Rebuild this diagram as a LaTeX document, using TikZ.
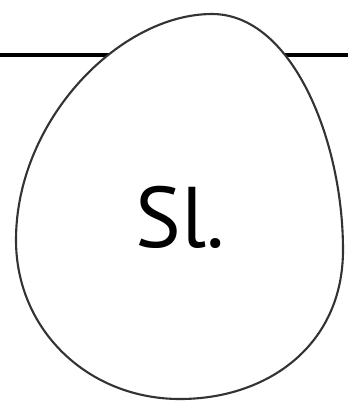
\documentclass[tikz,border=0pt]{standalone}
\usepackage{fontspec}
\setmainfont{PT Sans}
\usetikzlibrary{positioning,calc}
\tikzset{
  eggoutline/.style={
    draw=black!80,
    fill=white,
    line width=1.2pt
  },
  bandline/.style={
    draw=black,
    line width=2.2pt
  },
  egglabel/.style={
    font=\fontsize{49}{56}\selectfont,
    inner sep=0pt
  }
}
\begin{document}
\begin{tikzpicture}[x=0.02cm,y=-0.02cm]
  \useasboundingbox (0,0) rectangle (348,406);

  % horizontal band running behind the egg
  \coordinate (bandleft) at (0,55);
  \coordinate (bandright) at (348,55);
  \draw[bandline] (bandleft) -- (bandright);

  % the egg
  \coordinate (eggtop) at (212,14);
  \coordinate (eggright) at (343,250);
  \coordinate (eggbottom) at (180,399);
  \coordinate (eggleft) at (16,240);
  \draw[eggoutline] (eggtop)
    .. controls (292,14) and (343,140) .. (eggright)
    .. controls (343,345) and (268,399) .. (eggbottom)
    .. controls (88,399) and (16,330) .. (eggleft)
    .. controls (16,120) and (120,14) .. (eggtop) -- cycle;

  \node[egglabel] (egglabeltext) at (180,217) {Sl.};
\end{tikzpicture}
\end{document}
